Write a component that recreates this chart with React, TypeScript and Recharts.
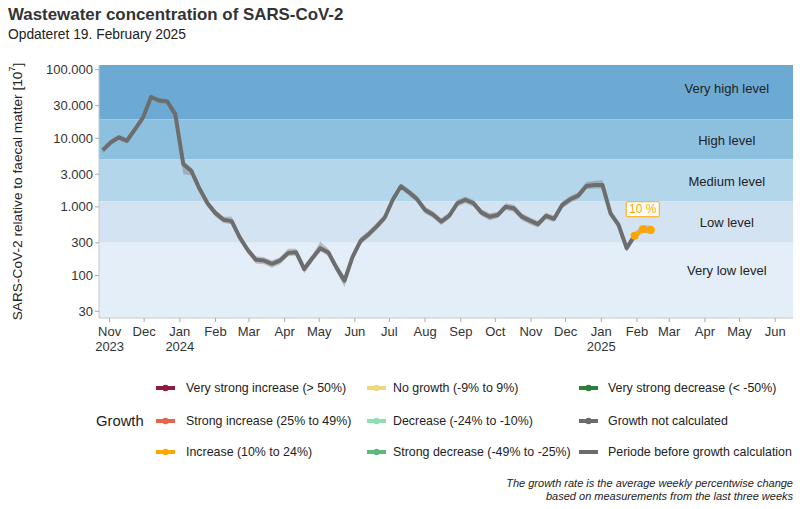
import React from 'react';
import {
  ComposedChart,
  Line,
  Area,
  XAxis,
  YAxis,
  CartesianGrid,
  ReferenceArea,
  ReferenceDot,
} from 'recharts';

// ---------- data ----------
const weekDates = [
  '2023-10-26', '2023-11-02', '2023-11-09', '2023-11-16', '2023-11-23', '2023-11-30',
  '2023-12-07', '2023-12-14', '2023-12-21', '2023-12-28', '2024-01-04', '2024-01-11',
  '2024-01-18', '2024-01-25', '2024-02-01', '2024-02-08', '2024-02-15', '2024-02-22',
  '2024-02-29', '2024-03-07', '2024-03-14', '2024-03-21', '2024-03-28', '2024-04-04',
  '2024-04-11', '2024-04-18', '2024-04-25', '2024-05-02', '2024-05-09', '2024-05-16',
  '2024-05-23', '2024-05-30', '2024-06-06', '2024-06-13', '2024-06-20', '2024-06-27',
  '2024-07-04', '2024-07-11', '2024-07-18', '2024-07-25', '2024-08-01', '2024-08-08',
  '2024-08-15', '2024-08-22', '2024-08-29', '2024-09-05', '2024-09-12', '2024-09-19',
  '2024-09-26', '2024-10-03', '2024-10-10', '2024-10-17', '2024-10-24', '2024-10-31',
  '2024-11-07', '2024-11-14', '2024-11-21', '2024-11-28', '2024-12-05', '2024-12-12',
  '2024-12-19', '2024-12-26', '2025-01-02', '2025-01-09', '2025-01-16', '2025-01-23',
  '2025-01-30', '2025-02-06', '2025-02-13',
];

const concentration = [
  6700, 8700, 10300, 9200, 13500, 20000,
  40000, 35500, 34500, 22500, 4200, 3350,
  1850, 1130, 810, 650, 620, 360,
  235, 170, 165, 148, 165, 212,
  218, 124, 178, 250, 216, 130,
  84, 187, 320, 400, 520, 700,
  1280, 2000, 1630, 1300, 900, 770,
  610, 745, 1130, 1270, 1130, 825,
  720, 760, 1005, 955, 720, 630,
  560, 740, 670, 1065, 1290, 1460,
  2010, 2080, 2090, 807, 546, 250,
  381, 472, 461,
];

const ribbonLow = [
  6100, 8000, 9400, 8400, 12300, 18300,
  37000, 32500, 31500, 20000, 3000, 2900,
  1650, 1000, 720, 580, 560, 320,
  210, 150, 146, 130, 146, 190,
  195, 108, 158, 225, 192, 112,
  68, 165, 285, 355, 465, 625,
  1140, 1800, 1460, 1160, 800, 690,
  545, 665, 1010, 1130, 1010, 735,
  640, 680, 900, 850, 640, 560,
  500, 660, 600, 950, 1150, 1300,
  1800, 1850, 1850, 720, 485, 220,
  340, 420, 410,
];

const ribbonHigh = [
  7400, 9600, 11300, 10100, 14800, 22000,
  43000, 38500, 37500, 25000, 4700, 3700,
  2050, 1250, 900, 720, 720, 400,
  262, 190, 185, 165, 185, 245,
  245, 140, 200, 310, 245, 150,
  95, 210, 360, 450, 590, 780,
  1420, 2200, 1820, 1450, 1000, 860,
  680, 830, 1270, 1420, 1260, 920,
  805, 850, 1130, 1070, 805, 705,
  625, 820, 750, 1190, 1440, 1630,
  2300, 2400, 2450, 900, 610, 280,
  425, 540, 530,
];

const growthStartIndex = 66; // first week with a calculated growth rate
const growthLabelIndex = 67;
const growthLabelText = '10 %';

const yTicks = [30, 100, 300, 1000, 3000, 10000, 30000, 100000];
const yDomain = [24, 117000];

const monthTickDates = [
  '2023-11-01', '2023-12-01', '2024-01-01', '2024-02-01', '2024-03-01', '2024-04-01',
  '2024-05-01', '2024-06-01', '2024-07-01', '2024-08-01', '2024-09-01', '2024-10-01',
  '2024-11-01', '2024-12-01', '2025-01-01', '2025-02-01', '2025-03-01', '2025-04-01',
  '2025-05-01', '2025-06-01',
];
const monthNames = ['Jan', 'Feb', 'Mar', 'Apr', 'May', 'Jun', 'Jul', 'Aug', 'Sep', 'Oct', 'Nov', 'Dec'];
const xDomainDates = ['2023-10-22T19:00:00Z', '2025-06-16T12:00:00Z'];

const levelNames = ['Very high level', 'High level', 'Medium level', 'Low level', 'Very low level'];
const levelLower = [19000, 4900, 1200, 300, 24];
const levelUpper = [117000, 19000, 4900, 1200, 300];
const levelLabelValue = [53000, 9400, 2380, 600, 117];
const levelLabelDate = '2025-04-20';
const levelColors = ['#6caad4', '#8dbfdf', '#b4d6ea', '#d3e3f2', '#e4eef8'];

const growthCategories = [
  'Very strong increase (> 50%)',
  'Strong increase (25% to 49%)',
  'Increase (10% to 24%)',
  'No growth (-9% to 9%)',
  'Decrease (-24% to -10%)',
  'Strong decrease (-49% to -25%)',
  'Very strong decrease (< -50%)',
  'Growth not calculated',
  'Periode before growth calculation',
];
const growthColors = ['#8e1b40', '#e8654b', '#ffa500', '#ecd880', '#8ee0b3', '#5db97b', '#2f7d3a', '#6b6b6b', '#6b6b6b'];

// ---------- helpers ----------
const ts = (s: string) => new Date(s.length === 10 ? s + 'T00:00:00Z' : s).getTime();

const rows = weekDates.map((d, i) => ({
  t: ts(d),
  band: [ribbonLow[i], ribbonHigh[i]],
  gray: i <= growthStartIndex ? concentration[i] : null,
  orange: i >= growthStartIndex ? concentration[i] : null,
}));

const fmtThousands = (v: number) => String(v).replace(/\B(?=(\d{3})+(?!\d))/g, '.');

const FONT = '"Liberation Sans", Arial, Helvetica, sans-serif';

const MonthTick = (props: any) => {
  const { x, y, payload, index } = props;
  const d = new Date(payload.value);
  const m = d.getUTCMonth();
  const showYear = m === 0 || index === 0;
  return (
    <g transform={`translate(${x},${y})`}>
      <text textAnchor="middle" fill="#333" fontSize={13} fontFamily={FONT}>
        <tspan x={0} dy={12}>{monthNames[m]}</tspan>
        {showYear ? <tspan x={0} dy={15}>{d.getUTCFullYear()}</tspan> : null}
      </text>
    </g>
  );
};

const YTitle = (props: any) => {
  const vb = props.viewBox || { x: 0, y: 65, width: 99, height: 253 };
  const cx = vb.x + 17;
  const cy = vb.y + vb.height / 2;
  return (
    <text
      transform={`translate(${cx},${cy}) rotate(-90)`}
      textAnchor="middle"
      dominantBaseline="central"
      fill="#222"
      fontSize={13.7}
      fontFamily={FONT}
    >
      SARS-CoV-2 relative to faecal matter [10
      <tspan dy={-5} fontSize={9}>7</tspan>
      <tspan dy={5}>]</tspan>
    </text>
  );
};

const GrowthLabel = (props: any) => {
  const { x, y, index } = props;
  if (index !== growthLabelIndex || x == null || y == null) return null;
  const w = 33;
  const h = 15;
  const cy = y - 20;
  return (
    <g>
      <rect x={x - w / 2} y={cy - h / 2} width={w} height={h} fill="#fff" stroke="#ffa500" strokeWidth={1} rx={1} />
      <text x={x} y={cy} textAnchor="middle" dominantBaseline="central" fill="#ffa500" fontSize={12} fontFamily={FONT}>
        {growthLabelText}
      </text>
    </g>
  );
};

const legendCols = [
  { sym: 155, txt: 186 },
  { sym: 366, txt: 393 },
  { sym: 578, txt: 608 },
];
const legendRows = [388, 421, 452];

export default function App() {
  return (
    <div
      style={{
        position: 'absolute',
        left: 0,
        top: 0,
        width: 800,
        height: 509,
        background: '#fff',
        fontFamily: FONT,
        overflow: 'hidden',
      }}
    >
      <ComposedChart
        width={800}
        height={509}
        data={rows}
        margin={{ top: 65, right: 7, bottom: 151, left: 0 }}
      >
        {levelNames.map((n, i) => (
          <ReferenceArea
            key={n}
            y1={levelLower[i]}
            y2={levelUpper[i]}
            fill={levelColors[i]}
            fillOpacity={1}
            stroke="none"
            ifOverflow="hidden"
          />
        ))}
        <CartesianGrid vertical={false} stroke="#ffffff" strokeOpacity={0.3} />
        <XAxis
          type="number"
          dataKey="t"
          domain={[ts(xDomainDates[0]), ts(xDomainDates[1])]}
          allowDataOverflow
          ticks={monthTickDates.map(ts)}
          interval={0}
          tick={<MonthTick />}
          tickSize={4}
          tickLine={{ stroke: '#aaa' }}
          axisLine={{ stroke: '#c8c8c8' }}
          height={40}
        />
        <YAxis
          scale="log"
          domain={yDomain}
          allowDataOverflow
          ticks={yTicks}
          interval={0}
          tickFormatter={fmtThousands}
          tick={{ fill: '#333', fontSize: 13, fontFamily: FONT }}
          tickSize={4}
          tickLine={{ stroke: '#aaa' }}
          axisLine={{ stroke: '#c8c8c8' }}
          width={99}
          label={{ content: <YTitle /> }}
        />
        <Area
          dataKey="band"
          stroke="none"
          fill="#7a7a7a"
          fillOpacity={0.42}
          isAnimationActive={false}
          activeDot={false}
        />
        <Line
          dataKey="gray"
          stroke="#6d6d6d"
          strokeWidth={4}
          dot={false}
          activeDot={false}
          isAnimationActive={false}
          strokeLinejoin="round"
        />
        <Line
          dataKey="orange"
          stroke="#ffa500"
          strokeWidth={3}
          dot={{ r: 4, fill: '#ffa500', stroke: 'none' }}
          activeDot={false}
          isAnimationActive={false}
          label={<GrowthLabel />}
        />
        {levelNames.map((n, i) => (
          <ReferenceDot
            key={'lbl' + n}
            x={ts(levelLabelDate)}
            y={levelLabelValue[i]}
            r={0}
            fill="none"
            stroke="none"
            label={{ value: n, position: 'center', fill: '#222', fontSize: 13, fontFamily: FONT }}
          />
        ))}
      </ComposedChart>

      <div style={{ position: 'absolute', left: 8, top: 5, fontSize: 16.9, fontWeight: 'bold', color: '#333', whiteSpace: 'nowrap' }}>
        Wastewater concentration of SARS-CoV-2
      </div>
      <div style={{ position: 'absolute', left: 8, top: 27, fontSize: 13.8, color: '#222', whiteSpace: 'nowrap' }}>
        Opdateret 19. February 2025
      </div>

      <div style={{ position: 'absolute', left: 96, top: 421 - 9, fontSize: 14.8, color: '#222', lineHeight: '18px' }}>
        Growth
      </div>
      {growthCategories.map((c, i) => {
        const col = legendCols[Math.floor(i / 3)];
        const rowY = legendRows[i % 3];
        const isPlain = i === 8;
        return (
          <React.Fragment key={c}>
            <svg style={{ position: 'absolute', left: col.sym, top: rowY - 5 }} width={22} height={10}>
              <line x1={1} y1={5} x2={20} y2={5} stroke={growthColors[i]} strokeWidth={4} />
              {!isPlain ? <circle cx={10.5} cy={5} r={3.2} fill={growthColors[i]} /> : null}
            </svg>
            <div
              style={{
                position: 'absolute',
                left: col.txt,
                top: rowY - 8,
                fontSize: 12.4,
                lineHeight: '16px',
                color: '#222',
                whiteSpace: 'nowrap',
              }}
            >
              {c}
            </div>
          </React.Fragment>
        );
      })}

      <div
        style={{
          position: 'absolute',
          right: 7,
          top: 477,
          fontSize: 11,
          lineHeight: '13px',
          fontStyle: 'italic',
          color: '#222',
          textAlign: 'right',
          whiteSpace: 'nowrap',
        }}
      >
        The growth rate is the average weekly percentwise change
        <br />
        based on measurements from the last three weeks
      </div>
    </div>
  );
}
